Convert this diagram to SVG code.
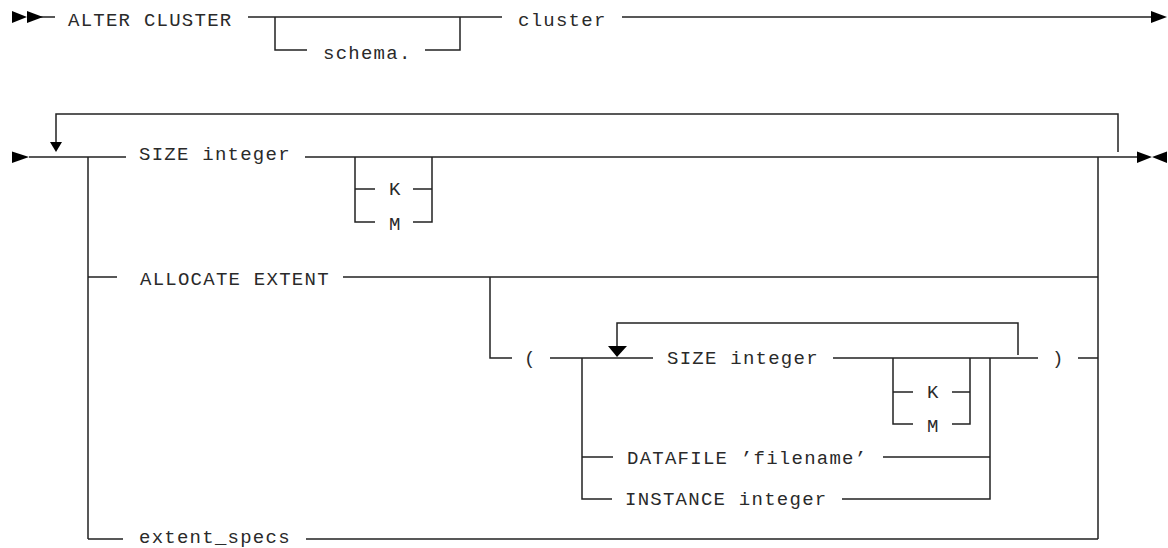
<svg xmlns="http://www.w3.org/2000/svg" width="1168" height="548" viewBox="0 0 1168 548">
<style>
.t{font-family:"Liberation Mono","Courier New",monospace;font-size:19px;letter-spacing:1.25px;fill:#2a2a2a}
.c{fill:none;stroke:#222;stroke-width:1.5}
.h{fill:#000;stroke:none}
</style>
<rect width="1168" height="548" fill="#fff"/>
<g id="connectors">
<path class="c" d="M27 17H55 M248 17H502 M275 17V50H307 M425 50H460V17 M622 17H1152"/>
<polygon class="h" points="12,11 27,17 12,23"/>
<polygon class="h" points="27,11 43,17 27,23"/>
<polygon class="h" points="1151,11 1167,17 1151,23"/>
<path class="c" d="M29 157H126 M305 157H1138 M56 142V114H1118V152"/>
<polygon class="h" points="12,151.5 29,157 12,163"/>
<polygon class="h" points="50,142 62,142 56,152"/>
<polygon class="h" points="1137,151.5 1152,157 1137,163"/>
<polygon class="h" points="1167,151.5 1152,157 1167,163"/>
<path class="c" d="M88 157V539 M1098 157V539"/>
<path class="c" d="M355 157V222H375 M355 189H375 M413 189H432 M413 222H432V157"/>
<path class="c" d="M88 277H117 M343 277H1098"/>
<path class="c" d="M88 539H123 M306 539H1098"/>
<path class="c" d="M490 277V358H512 M550 358H653 M833 358H1038 M1078 358H1098"/>
<path class="c" d="M617 346V323H1018V355"/>
<polygon class="h" points="608,346 627,346 617,357"/>
<path class="c" d="M582 358V499H612 M582 457H613 M883 457H990 M842 499H990V358"/>
<path class="c" d="M893 358V424H913 M893 392H913 M952 392H970 M952 424H970V358"/>
</g>
<g id="n-alter"><text class="t" x="68" y="26">ALTER CLUSTER</text></g>
<g id="n-schema"><text class="t" x="323" y="59">schema.</text></g>
<g id="n-cluster"><text class="t" x="518" y="26">cluster</text></g>
<g id="n-size1"><text class="t" x="139" y="160">SIZE integer</text></g>
<g id="n-k1"><text class="t" x="389" y="195">K</text></g>
<g id="n-m1"><text class="t" x="389" y="230">M</text></g>
<g id="n-allocate"><text class="t" x="140" y="285">ALLOCATE EXTENT</text></g>
<g id="n-lparen"><text class="t" x="524" y="364">(</text></g>
<g id="n-size2"><text class="t" x="667" y="364">SIZE integer</text></g>
<g id="n-k2"><text class="t" x="927" y="398">K</text></g>
<g id="n-m2"><text class="t" x="927" y="432">M</text></g>
<g id="n-datafile"><text class="t" x="627" y="464">DATAFILE ’filename’</text></g>
<g id="n-instance"><text class="t" x="625" y="505">INSTANCE integer</text></g>
<g id="n-rparen"><text class="t" x="1052" y="364">)</text></g>
<g id="n-extent"><text class="t" x="139" y="543">extent_specs</text></g>
</svg>
